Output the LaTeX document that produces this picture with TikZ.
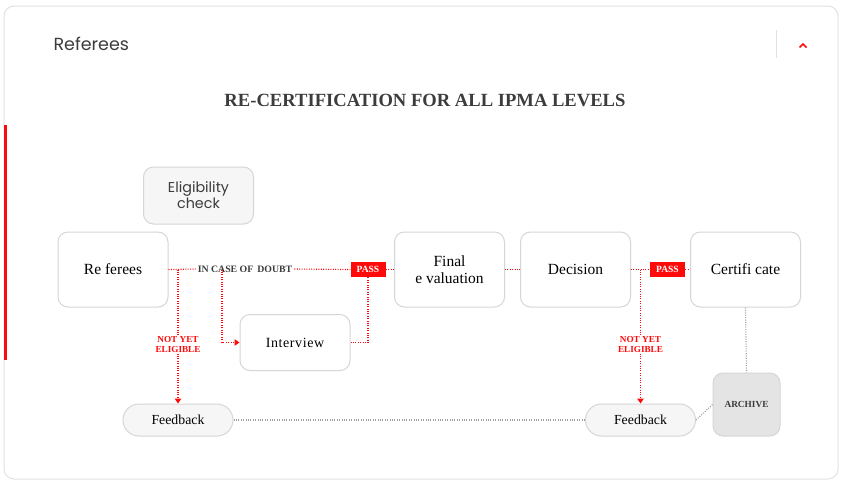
\documentclass[tikz,border=0pt]{standalone}
\usepackage{fontspec}
\setmainfont{Liberation Serif}
\newfontfamily\uifont{Poppins}
\usetikzlibrary{arrows.meta}
\definecolor{ipmared}{HTML}{FF0A0A}
\definecolor{cardgrey}{HTML}{E2E2E2}
\definecolor{boxgrey}{HTML}{D6D6D6}
\definecolor{lightfill}{HTML}{F6F6F6}
\definecolor{archfill}{HTML}{E4E4E4}
\definecolor{inkgrey}{HTML}{3C3C3C}
\begin{document}
\begin{tikzpicture}[x=1pt,y=-1pt,
  box/.style={draw=boxgrey, line width=1pt, rounded corners=10pt, fill=white,
    minimum width=110pt, minimum height=75pt, align=center, inner sep=2pt,
    font=\fontsize{15.5}{17.5}\selectfont},
  pill/.style={draw=boxgrey, line width=1pt, rounded corners=16pt, fill=lightfill,
    minimum width=110pt, minimum height=32pt, font=\fontsize{13.8}{15}\selectfont},
  passtag/.style={fill=ipmared, text=white, minimum width=35pt, minimum height=15pt,
    inner sep=0pt, font=\bfseries\fontsize{9.5}{10}\selectfont},
  notyet/.style={fill=white, text=ipmared, align=center, inner sep=1pt,
    font=\bfseries\fontsize{9.2}{9.5}\selectfont},
  redline/.style={ipmared, line width=1.1pt, dash pattern=on 1pt off 1.4pt},
  greyline/.style={black!38, line width=1.1pt, dash pattern=on 1pt off 1.4pt},
  tip/.style={-{Triangle[width=6.5pt,length=5pt]}}]
  \useasboundingbox (0,0) rectangle (842,483);
  \fill[white] (0,0) rectangle (842,483);
  \draw[cardgrey, line width=1pt] [rounded corners=10pt] (4,6) rectangle (838,479);
  \fill[ipmared] (3.5,125) rectangle (6.5,360);

  \node[anchor=west, text=inkgrey, font=\uifont\fontsize{17.5}{20}\selectfont] (head) at (50,44) {Referees};
  \draw[cardgrey, line width=1pt] (776,30) -- (776,58);
  \draw[ipmared, line width=1.6pt] (799.5,47.5) -- (803,44) -- (806.5,47.5);

  \node[text=inkgrey, font=\bfseries\fontsize{18.6}{21}\selectfont] (title) at (425,100) {RE-CERTIFICATION FOR ALL IPMA LEVELS};

  \node[box, fill=lightfill, minimum height=57pt, text=inkgrey, font=\uifont\fontsize{14.3}{16}\selectfont] (elig) at (198.5,195.5) {Eligibility\\check};
  \node[box] (referees) at (113,269.5) {Re ferees};
  \node[box] (final) at (449.5,269.5) {Final\\e valuation};
  \node[box] (decision) at (575.5,269.5) {Decision};
  \node[box] (cert) at (745.5,269.5) {Certifi cate};
  \node[box, minimum height=56pt, font=\fontsize{14}{16}\selectfont] (interview) at (295,342.5) {I\kern.6pt n\kern.6pt t\kern.6pt e\kern.6pt r\kern.6pt v\kern.6pt i\kern.6pt e\kern.6pt w};
  \node[pill] (fbleft) at (178,420) {Feedback};
  \node[pill] (fbright) at (640.5,420) {Feedback};
  \node[box, fill=archfill, minimum width=67pt, minimum height=63pt, text=inkgrey,
    font=\bfseries\fontsize{9.3}{10}\selectfont] (archive) at (746.5,404.5) {ARCHIVE};

  \node[text=inkgrey, inner sep=2pt, font=\bfseries\fontsize{9.8}{10}\selectfont] (doubt) at (245,269) {IN CASE OF\, DOUBT};
  \node[passtag] (passA) at (368,269.5) {PASS};
  \node[passtag] (passB) at (667.5,269.5) {PASS};

  \coordinate (dropA) at (fbleft.north |- referees.east);
  \coordinate (split) at (222,269.5);
  \coordinate (dropB) at (fbright.north |- decision.east);

  \draw[redline] (referees.east) -- (doubt.west);
  \draw[redline] (doubt.east) -- (passA.west);
  \draw[redline] (passA.east) -- (final.west);
  \draw[redline, tip] (dropA) -- node[notyet, pos=0.56] {NOT YET\\ELIGIBLE} (fbleft.north);
  \draw[redline, tip] (split) |- (interview.west);
  \draw[redline] (interview.east) -| (passA.south);
  \draw[redline] (final.east) -- (decision.west);
  \draw[redline] (decision.east) -- (passB.west);
  \draw[redline] (passB.east) -- (cert.west);
  \draw[redline, tip] (dropB) -- node[notyet, pos=0.56] {NOT YET\\ELIGIBLE} (fbright.north);

  \draw[greyline] (cert.south) -- (archive.north);
  \draw[greyline] (fbleft.east) -- (fbright.west);
  \draw[greyline] (fbright.east) -- (archive.west);
\end{tikzpicture}
\end{document}
